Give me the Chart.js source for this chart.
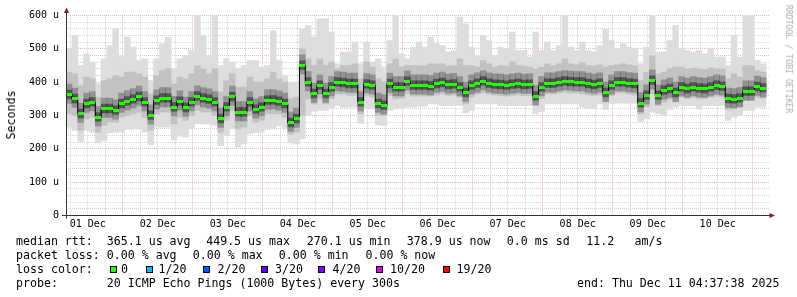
<!DOCTYPE html>
<html>
<head>
<meta charset="utf-8">
<title>smokeping</title>
<script src="https://cdn.jsdelivr.net/npm/chart.js@4.4.1/dist/chart.umd.min.js"></script>
<style>
  body { margin: 0; background: #fff; }
  #wrap { position: relative; width: 797px; height: 297px; overflow: hidden;
          font-family: 'DejaVu Sans Mono', monospace; font-size: 11.6px; color: #000; }
  #wrap canvas { position: absolute; left: 0; top: 0; }
  .t { position: absolute; white-space: pre; line-height: 14px; }
  .box { position: absolute; width: 5px; height: 5px; border: 1px solid #000; top: 265.5px; }
  .rot { position: absolute; white-space: pre; transform: translate(-50%, -50%) rotate(-90deg); }
</style>
</head>
<body>
<div id="wrap">
  <canvas id="chart" width="797" height="297"></canvas>

  <div class="rot" style="left:11px;top:115px;">Seconds</div>
  <div class="rot" style="left:788.5px;top:59px;font-size:8.2px;color:#adadad;transform:translate(-50%,-50%) rotate(90deg);">RRDTOOL / TOBI OETIKER</div>

  <!-- legend -->
  <div class="t" style="left:16px;top:233.7px;">median rtt:</div>
  <div class="t" style="left:106.8px;top:233.7px;">365.1 us avg</div>
  <div class="t" style="left:206.2px;top:233.7px;">449.5 us max</div>
  <div class="t" style="left:306.8px;top:233.7px;">270.1 us min</div>
  <div class="t" style="left:406.8px;top:233.7px;">378.9 us now</div>
  <div class="t" style="left:506.8px;top:233.7px;">0.0 ms sd</div>
  <div class="t" style="left:586.2px;top:233.7px;">11.2</div>
  <div class="t" style="left:634.5px;top:233.7px;">am/s</div>

  <div class="t" style="left:16px;top:248px;">packet loss:</div>
  <div class="t" style="left:106.8px;top:248px;">0.00 % avg</div>
  <div class="t" style="left:192.8px;top:248px;">0.00 % max</div>
  <div class="t" style="left:278.8px;top:248px;">0.00 % min</div>
  <div class="t" style="left:365.5px;top:248px;">0.00 % now</div>

  <div class="t" style="left:16px;top:262px;">loss color:</div>
  <div id="loss"></div>

  <div class="t" style="left:16px;top:276.3px;">probe:</div>
  <div class="t" style="left:106.8px;top:276.3px;">20 ICMP Echo Pings (1000 Bytes) every 300s</div>
  <div class="t" style="left:577px;top:276.3px;">end: Thu Dec 11 04:37:38 2025</div>
</div>

<script>
//************************* data **********************************
// one column every 2 hours, first column centred 5.6 h after 01 Dec 00:00
const startHour = 5.6;
const stepHours = 2;

// median rtt per column (u = microseconds)
const medianRtt = [
  362, 350, 305, 335, 340, 295, 320, 320, 315, 335,
  343, 349, 356, 340, 300, 345, 352, 352, 325, 342,
  323, 340, 358, 352, 348, 340, 290, 325, 356, 310,
  310, 340, 318, 325, 345, 346, 342, 335, 278, 290,
  450, 400, 365, 390, 365, 385, 400, 398, 395, 395,
  340, 394, 390, 335, 330, 395, 385, 385, 402, 390,
  390, 390, 388, 395, 398, 392, 394, 385, 368, 390,
  396, 403, 396, 393, 392, 390, 393, 395, 392, 393,
  358, 385, 396, 396, 400, 403, 401, 400, 400, 395,
  392, 396, 368, 390, 400, 400, 397, 395, 337, 360,
  405, 360, 375, 380, 368, 385, 380, 385, 382, 380,
  385, 390, 387, 350, 349, 352, 372, 372, 386, 382
];

// slowest ping of the column (top of the smoke)
const smokeMax = [
  500, 540, 450, 485, 460, 395, 470, 510, 560, 480,
  535, 505, 465, 470, 405, 470, 515, 535, 440, 470,
  480, 495, 600, 540, 480, 600, 450, 470, 460, 440,
  450, 465, 465, 445, 450, 555, 465, 420, 400, 400,
  560, 570, 535, 590, 590, 550, 455, 490, 490, 520,
  455, 520, 460, 470, 445, 525, 600, 485, 470, 505,
  520, 505, 535, 515, 510, 490, 495, 595, 575, 505,
  480, 540, 525, 480, 505, 500, 550, 495, 495, 475,
  550, 495, 520, 495, 510, 600, 505, 495, 520, 495,
  490, 510, 558, 525, 500, 515, 505, 500, 455, 505,
  600, 490, 490, 525, 570, 500, 495, 490, 495, 485,
  500, 475, 475, 450, 540, 475, 600, 600, 465, 455
];

// upper edge of the dense part of the smoke
const smokeHi = [
  430, 425, 390, 415, 410, 355, 405, 410, 420, 415,
  430, 430, 425, 415, 365, 420, 435, 440, 395, 415,
  410, 425, 450, 440, 425, 440, 370, 405, 425, 385,
  385, 415, 400, 400, 410, 430, 410, 400, 350, 355,
  500, 470, 450, 470, 450, 460, 440, 450, 450, 455,
  410, 460, 445, 410, 400, 455, 470, 445, 450, 450,
  450, 448, 455, 455, 455, 448, 450, 470, 450, 450,
  445, 465, 455, 445, 450, 448, 460, 450, 448, 445,
  440, 445, 455, 450, 455, 470, 455, 452, 458, 450,
  448, 452, 445, 450, 452, 455, 452, 450, 405, 430,
  480, 425, 430, 440, 445, 445, 440, 442, 440, 438,
  442, 440, 440, 410, 425, 415, 450, 450, 435, 430
];

// lower edge of the dense part of the smoke
const smokeLo = [
  305, 300, 255, 290, 295, 250, 270, 280, 280, 295,
  300, 305, 310, 295, 255, 305, 310, 310, 275, 295,
  285, 300, 315, 310, 310, 300, 250, 285, 315, 260,
  265, 300, 280, 285, 305, 305, 305, 295, 245, 250,
  300, 350, 335, 350, 335, 350, 365, 365, 360, 360,
  305, 360, 355, 300, 300, 360, 350, 352, 365, 358,
  358, 358, 358, 362, 365, 360, 362, 355, 335, 355,
  365, 368, 365, 362, 360, 358, 360, 362, 360, 360,
  330, 350, 365, 365, 368, 370, 368, 368, 365, 362,
  360, 362, 340, 360, 368, 368, 365, 362, 305, 325,
  365, 330, 340, 348, 340, 355, 352, 355, 350, 352,
  355, 358, 356, 318, 320, 325, 345, 345, 355, 352
];

// fastest ping of the column (bottom of the smoke)
const smokeMin = [
  265, 255, 222, 255, 250, 218, 225, 248, 250, 250,
  258, 260, 260, 250, 212, 265, 265, 265, 227, 238,
  236, 260, 275, 275, 275, 270, 210, 240, 260, 205,
  215, 245, 248, 250, 258, 262, 270, 260, 218, 215,
  230, 300, 312, 315, 315, 322, 330, 325, 325, 325,
  276, 322, 320, 272, 270, 315, 320, 322, 325, 325,
  328, 328, 335, 335, 330, 330, 330, 330, 308, 315,
  335, 335, 335, 335, 330, 330, 330, 330, 330, 330,
  305, 312, 335, 335, 335, 335, 335, 335, 325, 322,
  320, 335, 318, 335, 337, 337, 337, 337, 282, 290,
  310, 305, 300, 318, 325, 330, 330, 330, 320, 330,
  330, 330, 330, 285, 295, 300, 315, 315, 325, 325
];

const dayLabels = ['01 Dec', '02 Dec', '03 Dec', '04 Dec', '05 Dec',
                   '06 Dec', '07 Dec', '08 Dec', '09 Dec', '10 Dec'];
const yTickLabels = ['0', '100 u', '200 u', '300 u', '400 u', '500 u', '600 u'];
const lossLabels = ['0', '1/20', '2/20', '3/20', '4/20', '10/20', '19/20'];
const lossColors = ['#26ff00', '#00b8ff', '#0059ff', '#5e00ff', '#7e00ff', '#dd00ff', '#ff0000'];

//************************* legend boxes **********************************
const lossBox = document.getElementById('loss');
const boxLeft = [109.5, 146, 203, 260.5, 318, 376, 443];
const labelLeft = [121, 158.5, 217.5, 275, 332.5, 390, 456.5];
lossLabels.forEach((label, i) => {
  lossBox.insertAdjacentHTML('beforeend',
    `<div class="box" style="left:${boxLeft[i]}px;background:${lossColors[i]}"></div>` +
    `<div class="t" style="left:${labelLeft[i]}px;top:262px;">${label}</div>`);
});

//************************* chart **********************************
const hours = medianRtt.map((v, i) => startHour + i * stepHours);
const band = (lo, hi) => hours.map((h, i) => ({ x: h, y: [lo[i], hi[i]] }));
const line = (arr) => hours.map((h, i) => ({ x: h, y: arr[i] }));
// darker smoke hugging the median
const core = (below, above) => hours.map((h, i) => ({ x: h, y: [medianRtt[i] - below, medianRtt[i] + above] }));

// grid every 6 hours, red at midnight
const gridHours = [];
for (let h = 6; h <= 240; h += 6) gridHours.push(h);

const gridGray = '#cfcfcf';
const gridRed = '#efb4b4';
const monoFont = { family: 'DejaVu Sans Mono', size: 10 };

// green loss mark drawn at each median
const mark = document.createElement('canvas');
mark.width = 6;
mark.height = 3;
const mctx = mark.getContext('2d');
mctx.fillStyle = lossColors[0];
mctx.fillRect(0, 0, 6, 3);

const smokeBar = { type: 'bar', borderWidth: 0, grouped: false, categoryPercentage: 1, barPercentage: 1 };

const axisArrows = {
  id: 'axisArrows',
  afterDraw(chart) {
    const { ctx, chartArea: a } = chart;
    ctx.save();
    ctx.strokeStyle = '#333';
    ctx.lineWidth = 1;
    ctx.beginPath();
    ctx.moveTo(a.left + 0.5, a.bottom + 3);
    ctx.lineTo(a.left + 0.5, a.top - 3);
    ctx.moveTo(a.left - 4, a.bottom);
    ctx.lineTo(a.right + 1, a.bottom);
    ctx.stroke();
    ctx.fillStyle = '#7f1f1f';
    ctx.beginPath();
    ctx.moveTo(a.left + 0.5, a.top - 8);
    ctx.lineTo(a.left - 2, a.top - 2.5);
    ctx.lineTo(a.left + 3, a.top - 2.5);
    ctx.closePath();
    ctx.fill();
    ctx.beginPath();
    ctx.moveTo(a.right + 6, a.bottom);
    ctx.lineTo(a.right + 0.5, a.bottom - 2.5);
    ctx.lineTo(a.right + 0.5, a.bottom + 2.5);
    ctx.closePath();
    ctx.fill();
    ctx.restore();
  }
};

new Chart(document.getElementById('chart'), {
  type: 'bar',
  data: {
    datasets: [
      { ...smokeBar, data: band(smokeMin, smokeMax), backgroundColor: '#dddddd', order: 10 },
      { ...smokeBar, data: band(smokeLo, smokeHi), backgroundColor: '#c2c2c2', order: 9 },
      { ...smokeBar, data: core(26, 32), backgroundColor: 'rgba(0,0,0,0.25)', order: 8 },
      { ...smokeBar, data: core(12, 14), backgroundColor: 'rgba(0,0,0,0.42)', order: 7 },
      { type: 'line', data: line(medianRtt), borderColor: '#000', borderWidth: 1,
        stepped: 'middle', pointRadius: 0, order: 6 },
      { type: 'line', data: line(medianRtt), showLine: false, pointStyle: mark,
        pointRadius: 3, order: 5 }
    ]
  },
  options: {
    responsive: false,
    animation: false,
    devicePixelRatio: 1,
    events: [],
    layout: { padding: { top: 15.5, right: 28, bottom: 0, left: 0 } },
    plugins: { legend: { display: false }, tooltip: { enabled: false } },
    scales: {
      x: {
        type: 'linear',
        min: 4.56,
        max: 245.6,
        offset: false,
        afterBuildTicks: scale => { scale.ticks = gridHours.map(v => ({ value: v })); },
        afterFit: scale => { scale.height = 81.5; },
        grid: {
          offset: false,
          drawTicks: false,
          borderDash: [1, 1],
          color: ctx => (ctx.tick && ctx.tick.value % 24 === 0) ? gridRed : gridGray
        },
        border: { display: false, dash: [1, 1] },
        ticks: {
          autoSkip: false,
          maxRotation: 0,
          padding: 3,
          color: '#000',
          font: monoFont,
          callback: v => (v % 24 === 12) ? dayLabels[(v - 12) / 24] : ''
        }
      },
      y: {
        min: 0,
        max: 600,
        afterFit: scale => { scale.width = 66; },
        grid: {
          drawTicks: false,
          borderDash: [1, 1],
          color: ctx => (ctx.tick && ctx.tick.value % 100 === 0) ? gridRed : gridGray
        },
        border: { display: false, dash: [1, 1] },
        ticks: {
          stepSize: 20,
          autoSkip: false,
          padding: 7,
          color: '#000',
          font: monoFont,
          callback: v => (v % 100 === 0) ? yTickLabels[v / 100] : ''
        }
      }
    }
  },
  plugins: [axisArrows]
});
</script>
</body>
</html>
